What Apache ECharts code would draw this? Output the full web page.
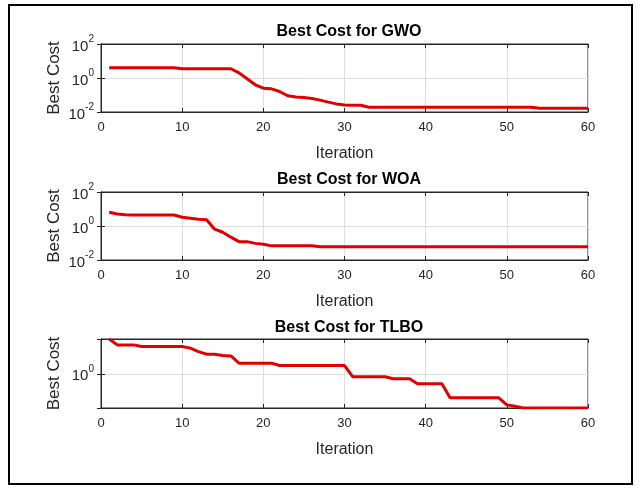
<!DOCTYPE html>
<html>
<head>
<meta charset="utf-8">
<script src="https://cdn.jsdelivr.net/npm/echarts@6/dist/echarts.min.js"></script>
<style>
  html, body { margin: 0; padding: 0; background: #fff; }
  #chart { width: 640px; height: 488px; }
</style>
</head>
<body>
<div id="chart"></div>
<script>
// iteration numbers 1..60
const iterations = [
  1, 2, 3, 4, 5, 6, 7, 8, 9, 10, 11, 12, 13, 14, 15, 16, 17, 18, 19, 20,
  21, 22, 23, 24, 25, 26, 27, 28, 29, 30, 31, 32, 33, 34, 35, 36, 37, 38, 39, 40,
  41, 42, 43, 44, 45, 46, 47, 48, 49, 50, 51, 52, 53, 54, 55, 56, 57, 58, 59, 60
];
const xTicks = [0, 10, 20, 30, 40, 50, 60];

// best cost per iteration
const gwoCost = [
  4.0, 4.0, 4.0, 4.0, 4.0, 4.0, 4.0, 4.0, 4.0, 3.5,
  3.5, 3.5, 3.5, 3.5, 3.5, 3.5, 2.0, 0.9, 0.4, 0.25,
  0.23, 0.16, 0.09, 0.076, 0.072, 0.062, 0.05, 0.038, 0.03, 0.026,
  0.025, 0.025, 0.019, 0.019, 0.019, 0.019, 0.019, 0.019, 0.019, 0.019,
  0.019, 0.019, 0.019, 0.019, 0.019, 0.019, 0.019, 0.019, 0.019, 0.019,
  0.019, 0.019, 0.019, 0.0167, 0.0167, 0.0167, 0.0167, 0.0167, 0.0167, 0.0167
];
const woaCost = [
  6.5, 5.1, 4.6, 4.4, 4.4, 4.4, 4.4, 4.4, 4.4, 3.3,
  2.9, 2.5, 2.3, 0.65, 0.43, 0.22, 0.12, 0.12, 0.095, 0.085,
  0.068, 0.068, 0.068, 0.068, 0.068, 0.068, 0.06, 0.06, 0.06, 0.06,
  0.06, 0.06, 0.06, 0.06, 0.06, 0.06, 0.06, 0.06, 0.06, 0.06,
  0.06, 0.06, 0.06, 0.06, 0.06, 0.06, 0.06, 0.06, 0.06, 0.06,
  0.06, 0.06, 0.06, 0.06, 0.06, 0.06, 0.06, 0.06, 0.06, 0.06
];
const tlboCost = [
  3.2, 2.63, 2.63, 2.63, 2.49, 2.49, 2.49, 2.49, 2.49, 2.49,
  2.36, 2.1, 1.93, 1.93, 1.85, 1.82, 1.43, 1.43, 1.43, 1.43,
  1.43, 1.32, 1.32, 1.32, 1.32, 1.32, 1.32, 1.32, 1.32, 1.32,
  0.91, 0.91, 0.91, 0.91, 0.91, 0.85, 0.85, 0.85, 0.72, 0.72,
  0.72, 0.72, 0.45, 0.45, 0.45, 0.45, 0.45, 0.45, 0.45, 0.355,
  0.34, 0.32, 0.32, 0.32, 0.32, 0.32, 0.32, 0.32, 0.32, 0.32
];

const titles = ['Best Cost for GWO', 'Best Cost for WOA', 'Best Cost for TLBO'];
const costs = [gwoCost, woaCost, tlboCost];
// y limits of each panel (log scale)
const yMins = [0.01, 0.01, 0.32];
const yMaxs = [100, 100, 3.2];
const yIntervals = [2, 2, null];

const gridTops = [44, 192, 339];
const gridHeights = [68, 68, 69];
const titleTops = [19, 167, 315];

const axisColor = '#262626';
const font = '"Liberation Sans", Arial, sans-serif';

// "10^n" tick labels, empty for the limits that are not powers of ten
function powLabel(v) {
  const e = Math.log10(v);
  const r = Math.round(e);
  if (Math.abs(e - r) > 1e-6) return '';
  return '{b|10}{s|' + r + '}';
}

const chart = echarts.init(document.getElementById('chart'));

const grid = [], xAxis = [], yAxis = [], series = [], title = [];
for (let i = 0; i < 3; i++) {
  grid.push({
    left: 101, width: 487, top: gridTops[i], height: gridHeights[i],
    show: true, borderColor: axisColor, borderWidth: 1, backgroundColor: '#fff'
  });
  title.push({
    text: titles[i], left: 344, top: titleTops[i], textAlign: 'center',
    textStyle: { fontFamily: font, fontSize: 16, fontWeight: 'bold', color: '#000' }
  });
  xAxis.push({
    type: 'value', gridIndex: i, min: 0, max: 60, interval: 10,
    name: 'Iteration', nameLocation: 'middle', nameGap: 34,
    nameTextStyle: { fontFamily: font, fontSize: 16, color: axisColor },
    axisLine: { lineStyle: { color: axisColor } },
    axisTick: { inside: true, length: 4, lineStyle: { color: axisColor } },
    axisLabel: { fontFamily: font, fontSize: 13, color: axisColor, margin: 9 },
    splitLine: { show: true, lineStyle: { color: '#dedede' } }
  });
  // top edge ticks, like the MATLAB box
  xAxis.push({
    type: 'value', gridIndex: i, min: 0, max: 60, interval: 10, position: 'top',
    axisLine: { show: true, lineStyle: { color: axisColor } },
    axisTick: { inside: true, length: 4, lineStyle: { color: axisColor } },
    axisLabel: { show: false }, splitLine: { show: false }
  });
  const yBase = {
    type: 'log', logBase: 10, gridIndex: i, min: yMins[i], max: yMaxs[i],
    axisLine: { show: true, lineStyle: { color: axisColor } },
    axisTick: { inside: true, length: 4, lineStyle: { color: axisColor } }
  };
  if (yIntervals[i]) yBase.interval = yIntervals[i];
  yAxis.push(Object.assign({}, yBase, {
    name: 'Best Cost', nameLocation: 'middle', nameGap: 38, nameMoveOverlap: false,
    nameTextStyle: { fontFamily: font, fontSize: 17, color: axisColor },
    axisLabel: {
      margin: 7, formatter: powLabel,
      rich: {
        b: { fontFamily: font, fontSize: 15, color: axisColor, lineHeight: 20, verticalAlign: 'bottom' },
        s: { fontFamily: font, fontSize: 10, color: axisColor, lineHeight: 11, verticalAlign: 'top' }
      }
    },
    splitLine: { show: true, lineStyle: { color: '#dedede' } }
  }));
  yAxis.push(Object.assign({}, yBase, {
    position: 'right', axisLabel: { show: false }, splitLine: { show: false }
  }));
  series.push({
    type: 'line', xAxisIndex: 2 * i, yAxisIndex: 2 * i,
    data: iterations.map((it, k) => [it, costs[i][k]]),
    showSymbol: false, symbol: 'none', clip: true,
    lineStyle: { color: '#e00000', width: 3 },
    animation: false
  });
}

chart.setOption({
  animation: false,
  title: title,
  grid: grid,
  xAxis: xAxis,
  yAxis: yAxis,
  series: series,
  graphic: [{
    type: 'rect', silent: true,
    shape: { x: 9, y: 5, width: 623, height: 479 },
    style: { fill: 'none', stroke: '#000', lineWidth: 2 }
  }]
});
</script>
</body>
</html>
